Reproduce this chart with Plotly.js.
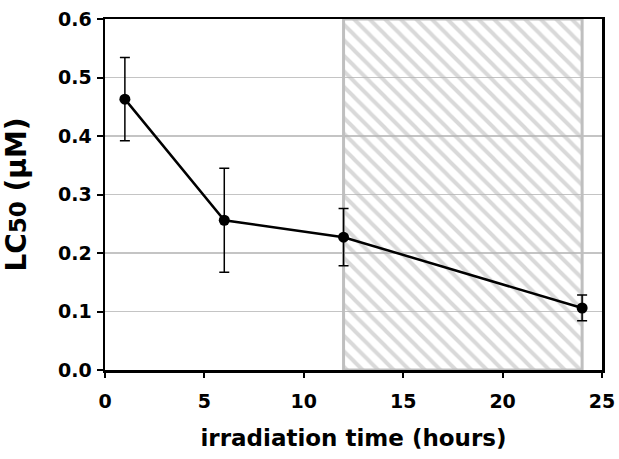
<!DOCTYPE html>
<html><head><meta charset="utf-8">
<script src="https://cdn.plot.ly/plotly-3.0.1.min.js"></script>
<style>html,body{margin:0;padding:0;background:#fff;}#chart{width:619px;height:459px;}</style>
</head><body><div id="chart"></div>
<script>
const hours = [1, 6, 12, 24];
const lc50 = [0.463, 0.256, 0.227, 0.106];
const lc50Err = [0.071, 0.089, 0.049, 0.022];
const hatchStart = 12;
const hatchEnd = 24;
const hatchTop = 0.6;
const xTicks = [0, 5, 10, 15, 20, 25];
const yTicks = [0, 0.1, 0.2, 0.3, 0.4, 0.5, 0.6];

const FONT = '"DejaVu Sans", Arial, sans-serif';

const hatch = {
  type: 'bar',
  x: [(hatchStart + hatchEnd) / 2],
  y: [hatchTop],
  width: [hatchEnd - hatchStart],
  base: [0],
  marker: {
    color: 'rgba(0,0,0,0)',
    line: {color: '#bfbfbf', width: 3},
    pattern: {shape: '\\', fgcolor: '#b4b4b4', bgcolor: 'rgba(0,0,0,0)', size: 11, solidity: 0.36, fillmode: 'overlay'}
  },
  hoverinfo: 'skip',
  showlegend: false
};

const series = {
  type: 'scatter',
  mode: 'lines+markers',
  x: hours,
  y: lc50,
  line: {color: '#000', width: 2.5},
  marker: {color: '#000', size: 11},
  error_y: {type: 'data', array: lc50Err, visible: true, color: '#000', thickness: 1.5, width: 5},
  showlegend: false
};

const layout = {
  width: 619, height: 459,
  margin: {l: 105, r: 17, t: 19, b: 89},
  paper_bgcolor: '#fff', plot_bgcolor: '#fff',
  font: {family: FONT, color: '#000'},
  xaxis: {
    range: [0, 25], tickvals: xTicks, ticktext: xTicks.map(String),
    showgrid: false, zeroline: false,
    showline: true, linecolor: '#000', linewidth: 2.5, mirror: true,
    ticks: 'outside', ticklen: 5, tickwidth: 2, tickcolor: '#000',
    ticklabelstandoff: 8,
    tickfont: {family: FONT, size: 19, color: '#000', weight: 'bold'},
    title: {text: 'irradiation time (hours)', font: {family: FONT, size: 23, color: '#000', weight: 'bold'}, standoff: 19}
  },
  yaxis: {
    range: [0, 0.6], tickvals: yTicks, ticktext: yTicks.map(v => v.toFixed(1)),
    showgrid: true, gridcolor: '#c4c4c4', gridwidth: 1.5, zeroline: false,
    showline: true, linecolor: '#000', linewidth: 2.5, mirror: true,
    ticks: 'outside', ticklen: 6, tickwidth: 2, tickcolor: '#000',
    ticklabelstandoff: 1,
    tickfont: {family: FONT, size: 19, color: '#000', weight: 'bold'},
    title: {text: 'LC<span style="font-size:23px">50</span> (μM)', font: {family: FONT, size: 28, color: '#000', weight: 'bold'}, standoff: 32}
  },
  bargap: 0
};

Plotly.newPlot('chart', [hatch, series], layout, {staticPlot: true, displayModeBar: false});
</script>
</body></html>
